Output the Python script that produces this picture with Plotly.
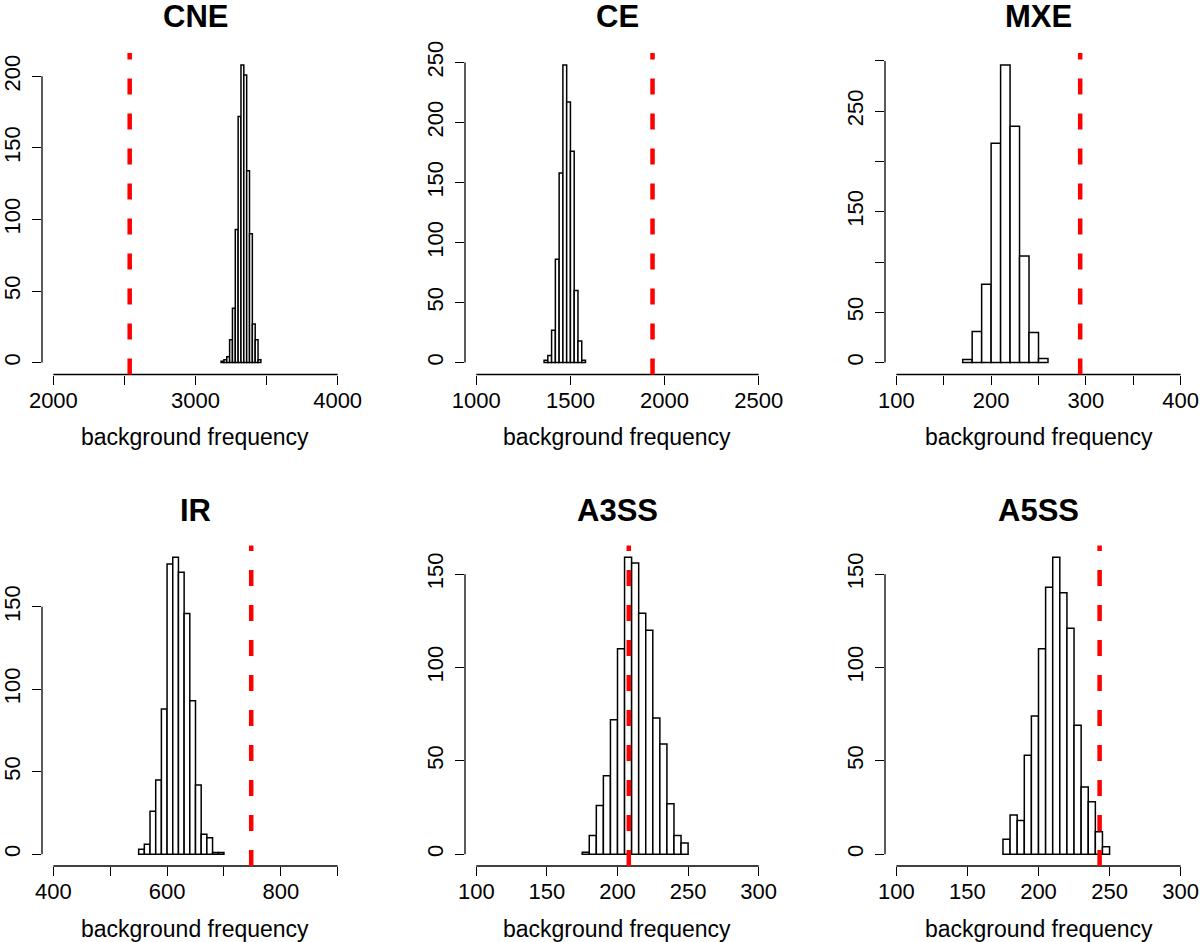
import plotly.graph_objects as go

# histogram counts (1000 permutations each)
cne_left = [3180, 3200, 3220, 3240, 3260, 3280, 3300, 3320, 3340, 3360, 3380, 3400, 3420, 3440]
cne_counts = [1, 2, 4, 16, 38, 93, 172, 208, 201, 134, 90, 27, 16, 2]
cne_obs = 2537

ce_left = [1360, 1380, 1400, 1420, 1440, 1460, 1480, 1500, 1520, 1540, 1560]
ce_counts = [2, 6, 27, 86, 158, 248, 217, 176, 60, 18, 2]
ce_obs = 1936

mxe_left = [170, 180, 190, 200, 210, 220, 230, 240, 250]
mxe_counts = [3, 31, 78, 218, 296, 235, 106, 30, 4]
mxe_obs = 294

ir_left = [550, 560, 570, 580, 590, 600, 610, 620, 630, 640, 650, 660, 670, 680, 690]
ir_counts = [3, 6, 26, 45, 88, 176, 180, 171, 146, 93, 42, 12, 10, 1, 1]
ir_obs = 748

a3ss_left = [175, 180, 185, 190, 195, 200, 205, 210, 215, 220, 225, 230, 235, 240, 245]
a3ss_counts = [1, 10, 26, 42, 72, 110, 159, 156, 129, 120, 73, 59, 27, 10, 6]
a3ss_obs = 208

a5ss_left = [175, 180, 185, 190, 195, 200, 205, 210, 215, 220, 225, 230, 235, 240, 245]
a5ss_counts = [8, 21, 18, 53, 74, 110, 143, 159, 140, 121, 69, 36, 28, 12, 4]
a5ss_obs = 243

TITLES = ["CNE", "CE", "MXE", "IR", "A3SS", "A5SS"]
BIN_W = [20, 20, 10, 10, 5, 5]
LEFTS = [cne_left, ce_left, mxe_left, ir_left, a3ss_left, a5ss_left]
COUNTS = [cne_counts, ce_counts, mxe_counts, ir_counts, a3ss_counts, a5ss_counts]
OBS = [cne_obs, ce_obs, mxe_obs, ir_obs, a3ss_obs, a5ss_obs]
XLIM = [(2000, 4000), (1000, 2500), (100, 400), (400, 900), (100, 300), (100, 300)]
X_TICKS = [
    [2000, 2500, 3000, 3500, 4000],
    [1000, 1500, 2000, 2500],
    [100, 150, 200, 250, 300, 350, 400],
    [400, 500, 600, 700, 800, 900],
    [100, 150, 200, 250, 300],
    [100, 150, 200, 250, 300],
]
X_LABELS = [
    ["2000", "", "3000", "", "4000"],
    ["1000", "1500", "2000", "2500"],
    ["100", "", "200", "", "300", "", "400"],
    ["400", "", "600", "", "800", ""],
    ["100", "150", "200", "250", "300"],
    ["100", "150", "200", "250", "300"],
]
Y_TICKS = [
    [0, 50, 100, 150, 200],
    [0, 50, 100, 150, 200, 250],
    [0, 50, 100, 150, 200, 250, 300],
    [0, 50, 100, 150],
    [0, 50, 100, 150],
    [0, 50, 100, 150],
]
Y_LABELS = [
    ["0", "50", "100", "150", "200"],
    ["0", "50", "100", "150", "200", "250"],
    ["0", "50", "", "150", "", "250", ""],
    ["0", "50", "100", "150"],
    ["0", "50", "100", "150"],
    ["0", "50", "100", "150"],
]

W, H = 1200, 942
COL_PX = [(42, 349), (465, 770), (885, 1192)]
ROW_PX = [(53, 374.5), (545.5, 866)]
TITLE_Y = [17, 510]
XLAB_Y = [437, 929]
FONT = "Liberation Sans, Arial, Helvetica, sans-serif"


def px_x(v):
    return v / W


def px_y(v):
    return 1 - v / H


fig = go.Figure()
layout = dict(
    width=W, height=H, margin=dict(l=0, r=0, t=0, b=0),
    paper_bgcolor="white", plot_bgcolor="white",
    showlegend=False, font=dict(family=FONT, color="black", size=22),
    annotations=[], shapes=[],
)

for i in range(6):
    r, c = divmod(i, 3)
    n = i + 1
    key = "" if n == 1 else str(n)
    xa, ya = "x" + key, "y" + key
    x0, x1 = COL_PX[c]
    y0, y1 = ROW_PX[r]
    lo, hi = XLIM[i]
    pad = (hi - lo) * 0.04
    ymax = max(COUNTS[i])

    centers = [v + BIN_W[i] / 2 for v in LEFTS[i]]
    fig.add_trace(go.Bar(
        x=centers, y=COUNTS[i], width=BIN_W[i],
        marker=dict(color="white", line=dict(color="black", width=1.5)),
        xaxis=xa, yaxis=ya, hoverinfo="x+y",
    ))

    layout["xaxis" + key] = dict(
        domain=[px_x(x0), px_x(x1)], anchor=ya, range=[lo - pad, hi + pad],
        automargin=False,
        showgrid=False, zeroline=False, showline=False,
        tickmode="array", tickvals=X_TICKS[i], ticktext=X_LABELS[i],
        ticks="outside", ticklen=9, tickwidth=1.3, tickcolor="black",
        tickfont=dict(size=22), ticklabelstandoff=-3,
    )
    layout["yaxis" + key] = dict(
        domain=[px_y(y1), px_y(y0)], anchor=xa,
        range=[-0.04 * ymax, 1.04 * ymax], automargin=False,
        showgrid=False, zeroline=False, showline=False,
        tickmode="array", tickvals=Y_TICKS[i], ticktext=Y_LABELS[i],
        ticks="outside", ticklen=9, tickwidth=1.3, tickcolor="black",
        tickangle=-90, tickfont=dict(size=22), ticklabelstandoff=3,
    )

    # R-style axis lines spanning only the tick range
    layout["shapes"].append(dict(
        type="line", xref=xa, yref=ya + " domain",
        x0=X_TICKS[i][0], x1=X_TICKS[i][-1], y0=0, y1=0,
        line=dict(color="black", width=1.3),
    ))
    layout["shapes"].append(dict(
        type="line", xref=xa + " domain", yref=ya,
        x0=0, x1=0, y0=Y_TICKS[i][0], y1=Y_TICKS[i][-1],
        line=dict(color="black", width=1.3),
    ))
    # observed value
    layout["shapes"].append(dict(
        type="line", xref=xa, yref=ya + " domain",
        x0=OBS[i], x1=OBS[i], y0=0, y1=1,
        line=dict(color="#ff0000", width=4.5, dash="16px,19px"),
    ))

    layout["annotations"].append(dict(
        text="<b>%s</b>" % TITLES[i], xref="paper", yref="paper",
        x=px_x((x0 + x1) / 2), y=px_y(TITLE_Y[r]),
        xanchor="center", yanchor="middle", showarrow=False,
        font=dict(size=31, family=FONT),
    ))
    layout["annotations"].append(dict(
        text="background frequency", xref="paper", yref="paper",
        x=px_x((x0 + x1) / 2), y=px_y(XLAB_Y[r]),
        xanchor="center", yanchor="middle", showarrow=False,
        font=dict(size=23, family=FONT),
    ))

fig.update_layout(layout)
# drop the browser's default body margin so the figure sits at the page corner
fig.write_html(
    "out.html",
    config={"displayModeBar": False},
    post_script="document.body.style.margin='0px';",
)
